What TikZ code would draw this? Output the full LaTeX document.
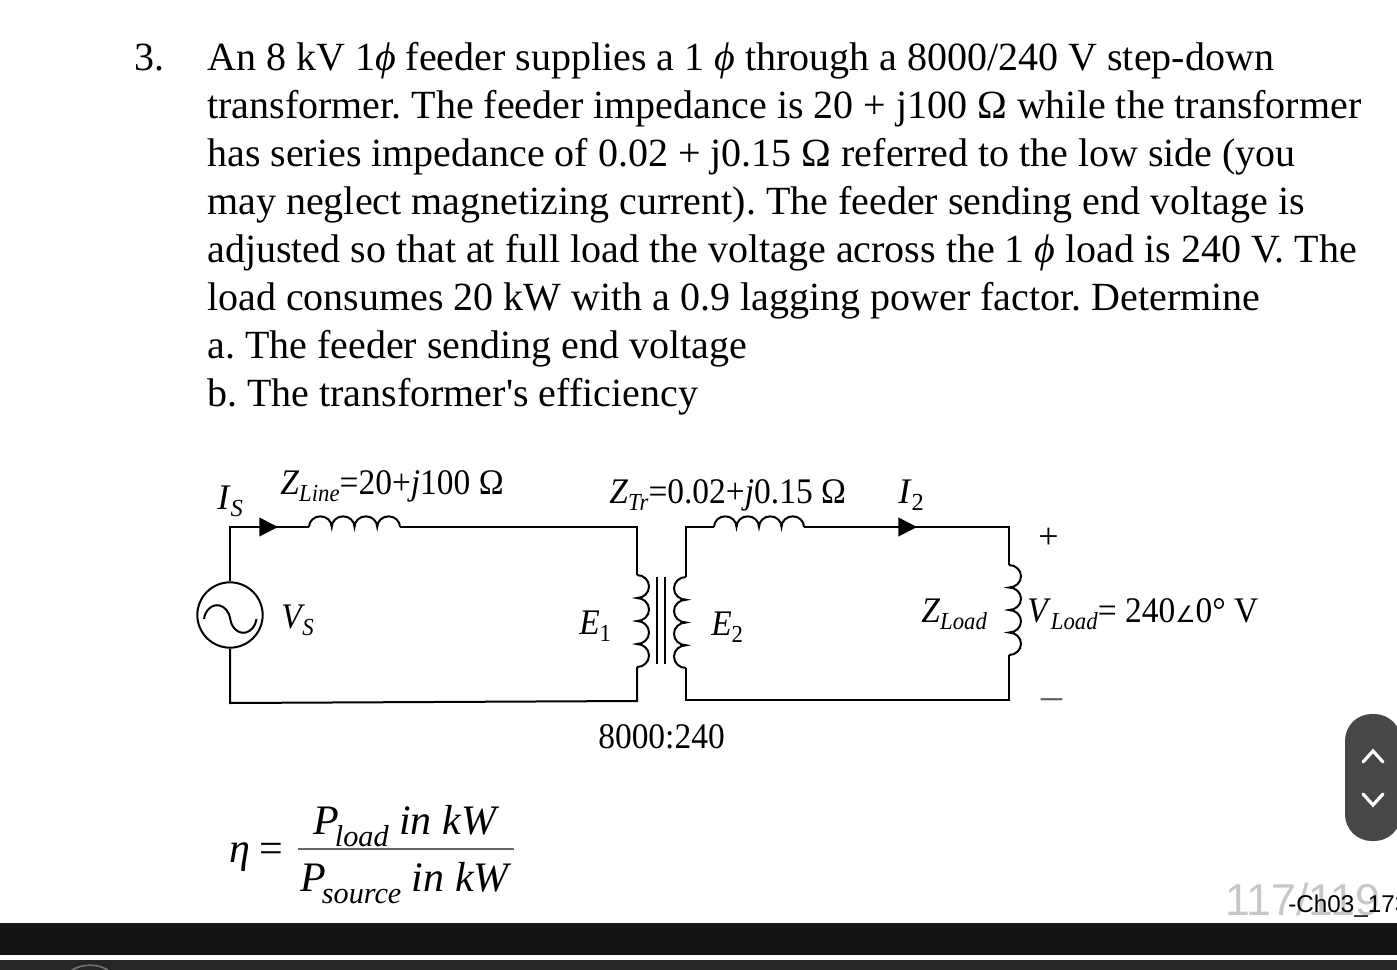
\documentclass[tikz,border=0pt]{standalone}
\usepackage{fontspec}
\setmainfont{Liberation Serif}
\setsansfont{Liberation Sans}
\newfontfamily\symfont{DejaVu Sans}
\usetikzlibrary{arrows.meta}
\frenchspacing
\newcommand{\low}[1]{\raisebox{-0.22em}{\scalebox{0.68}{#1}}}
\newcommand{\lowf}[1]{\kern-3pt\raisebox{-0.29em}{\scalebox{0.72}{#1}}}
\tikzset{
    lbl/.style={font=\fontsize{27}{30}\selectfont\addfontfeature{FakeStretch=0.93}, inner sep=0pt, anchor=base west},
    big/.style={font=\fontsize{27}{30}\selectfont, inner sep=0pt, anchor=base west},
    frac/.style={font=\fontsize{31.5}{34}\selectfont, inner sep=0pt, anchor=base west},
    wire/.style={draw, line width=1.5pt, line join=miter},
    flow/.style={-{Triangle[length=14pt, width=14pt]}, line width=1.5pt},
    uibar/.style={fill=#1, draw=none, inner sep=0pt}
}
\begin{document}
\begin{tikzpicture}[x=0.75pt, y=-0.75pt]
    \useasboundingbox (0,0) rectangle (1397,970);
    \node[font=\fontsize{30}{36}\selectfont, inner sep=0pt, anchor=base west] (num) at (134,71) {3.};
    \node[font=\fontsize{30}{36}\selectfont, inner sep=0pt, anchor=north west, align=left] (prob) at (207,42) {An 8 kV 1\textit{ϕ} feeder supplies a 1 \textit{ϕ} through a 8000/240 V step-down\\
        transformer. The feeder impedance is 20 + j100 Ω while the transformer\\
        has series impedance of 0.02 + j0.15 Ω referred to the low side (you\\
        may neglect magnetizing current). The feeder sending end voltage is\\
        adjusted so that at full load the voltage across the 1 \textit{ϕ} load is 240 V. The\\
        load consumes 20 kW with a 0.9 lagging power factor. Determine\\
        a. The feeder sending end voltage\\
        b. The transformer{\addfontfeature{Ligatures=TeXOff}'}s efficiency};

    \node[circle, draw, line width=1.5pt, minimum size=49pt, inner sep=0pt] (src) at (230,615) {};
    \draw[line width=1.5pt] (204,619) arc[start angle=170, end angle=10, x radius=10pt, y radius=12.5pt]
        arc[start angle=190, end angle=350, x radius=10pt, y radius=12.5pt];

    \coordinate (tl) at (230,527);
    \coordinate (bl) at (230,703);
    \coordinate (a1) at (278,527);
    \coordinate (c1) at (309,527);
    \coordinate (c2) at (400,527);
    \coordinate (pt) at (637,527);
    \coordinate (p1) at (637,575);
    \coordinate (p2) at (637,667);
    \coordinate (pb) at (637,701);
    \coordinate (st) at (686,527);
    \coordinate (s1) at (686,577);
    \coordinate (s2) at (686,668);
    \coordinate (sb) at (686,700);
    \coordinate (c3) at (714,527);
    \coordinate (c4) at (804,527);
    \coordinate (a2) at (917,527);
    \coordinate (lt) at (1009,527);
    \coordinate (l1) at (1009,565);
    \coordinate (l2) at (1009,655);
    \coordinate (lb) at (1009,700);
    \coordinate (k1) at (657,577);
    \coordinate (k2) at (657,664);
    \coordinate (k3) at (665,577);
    \coordinate (k4) at (665,664);
    \coordinate (fr1) at (298,849);
    \coordinate (fr2) at (514,849);

    \draw[wire] (src) -- (tl) -- (c1);
    \draw[flow] (tl) -- (a1);
    \draw[wire] (c1) \foreach \i in {1,...,4} {arc[start angle=180, end angle=0, x radius=8.53pt, y radius=8pt]};
    \draw[wire] (c2) -- (pt) -- (p1);
    \draw[wire] (p1) \foreach \i in {1,...,4} {arc[start angle=90, end angle=-90, x radius=9pt, y radius=8.63pt]};
    \draw[wire] (p2) -- (pb) -- (bl) -- (src);
    \draw[line width=1.3pt] (k1) -- (k2);
    \draw[line width=1.3pt] (k3) -- (k4);
    \draw[wire] (s1) -- (st) -- (c3);
    \draw[wire] (s1) \foreach \i in {1,...,4} {arc[start angle=90, end angle=270, x radius=9pt, y radius=8.53pt]};
    \draw[wire] (s2) -- (sb) -- (lb) -- (l2);
    \draw[wire] (c3) \foreach \i in {1,...,4} {arc[start angle=180, end angle=0, x radius=8.44pt, y radius=8pt]};
    \draw[wire] (c4) -- (lt) -- (l1);
    \draw[flow] (c4) -- (a2);
    \draw[wire] (l1) \foreach \i in {1,...,4} {arc[start angle=90, end angle=-90, x radius=9pt, y radius=8.44pt]};

    \node[big] (is) at (217,509) {\textit{I}\low{\textit{S}}};
    \node[lbl] (zline) at (280,494) {\textit{Z}\low{\textit{Line}}=20+\textit{j}100 Ω};
    \node[lbl] (ztr) at (609,503) {\textit{Z}\low{\textit{Tr}}=0.02+\textit{j}0.15 Ω};
    \node[big] (i2) at (898,503) {\textit{I}\low{2}};
    \node[big] (plus) at (1038,548) {+};
    \node[lbl] (vs) at (281,628) {\textit{V}\kern-2pt\low{\textit{S}}};
    \node[lbl] (e1) at (579,634) {\textit{E}\low{1}};
    \node[lbl] (e2) at (711,635) {\textit{E}\low{2}};
    \node[lbl] (zload) at (921,622) {\textit{Z}\low{\textit{Load}}};
    \node[lbl] (vload) at (1027,622) {\textit{V}\low{\textit{Load}}= 240{\symfont\fontsize{17}{20}\selectfont ∠}0° V};
    \node[frac, text=black!65] (minus) at (1041,709) {–};
    \node[lbl] (ratio) at (598,748) {8000:240};

    \node[frac] (eta) at (229,862) {\textit{η}\hspace{7pt}=};
    \node[frac] (top) at (313,834) {\textit{P}\lowf{\textit{load}} \textit{in kW}};
    \node[frac] (bot) at (300,891) {\textit{P}\lowf{\textit{source}} \textit{in kW}};
    \draw[line width=0.8pt, black!60] (fr1) -- (fr2);

    \begin{scope}
        \clip (0,0) rectangle (1397,970);
        \fill[black!72, rounded corners=20pt] (1345,714) rectangle (1401,841);
        \node[font=\sffamily\fontsize{33.5}{36}\selectfont, text=black!22, inner sep=0pt, anchor=base west] (page) at (1225,915) {117/119};
        \node[font=\sffamily\fontsize{18.2}{22}\selectfont, inner sep=0pt, anchor=base west] (file) at (1288,912) {-Ch03\_173};
        \node[uibar=black!92, minimum width=1048pt, minimum height=24pt, anchor=north west] (bar1) at (0,923) {};
        \node[uibar=black!85, minimum width=1048pt, minimum height=8pt, anchor=north west] (bar2) at (0,960) {};
        \draw[black!55, line width=1.2pt] (72,970) arc[start angle=120, end angle=60, radius=27pt];
    \end{scope}
    \draw[white, line width=2.4pt, line cap=round] (1363,762) -- (1373,751) -- (1383,762);
    \draw[white, line width=2.4pt, line cap=round] (1363,794) -- (1373,805) -- (1383,794);
\end{tikzpicture}
\end{document}
